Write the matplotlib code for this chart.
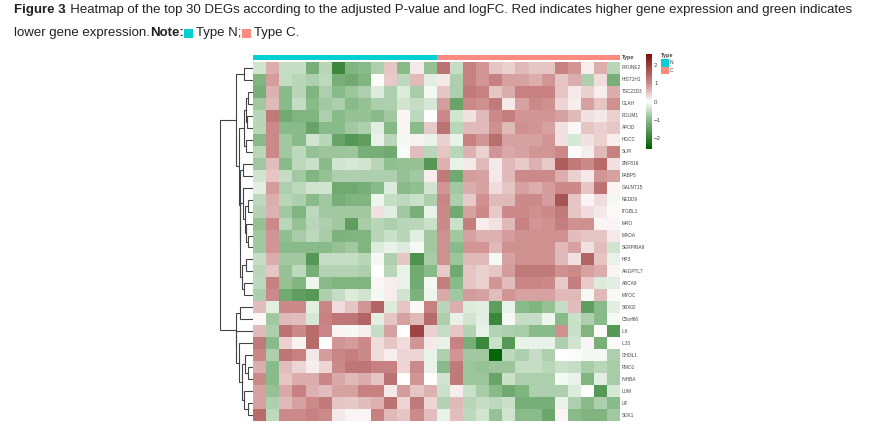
import numpy as np
import matplotlib
matplotlib.use('Agg')
import matplotlib.pyplot as plt
from matplotlib.colors import LinearSegmentedColormap, ListedColormap
from matplotlib.patches import Rectangle

genes = ['PRUNE2', 'HIST1H1', 'TSC22D3', 'GLAH', 'PDLIM1', 'APOD', 'HGCC', 'SLPI', 'ZNF816', 'FABP5',
         'GALNT15', 'NEDD9', 'ITGBL1', 'MRO', 'MAOA', 'SERPINA9', 'HP3', 'ANGPTL7', 'ABCA8', 'MYOC',
         'SBX02', 'C5orf66', 'IL6', 'IL33', 'CHI3L1', 'FMO1', 'INHBA', 'LUM', 'LIF', 'SDK1']

# 14 N samples, then 14 C samples
expr = [
    [-.4, .7, -.5, -.5, -1.2, -.6, -1.9, -1.1, -1, -.7, .5, -1, .2, -.9, 1.3, -.5, 1.1, .9, .5, .4, .6, .5, .5, 1.1, .9, .15, .7, -.6],
    [-1.1, .85, -.5, -.6, -.7, -.55, -1.2, -1.3, -1.1, -.05, .45, -.55, .6, -.25, .2, -.7, 1.1, .9, 1.1, .8, .8, .7, .9, .5, .7, -.7, .3, -1.2],
    [-1.2, .65, -1, -.6, -1.1, -.7, -1, -.85, -.7, -.3, -.7, -.3, -.75, -.1, .5, -.7, 1.2, 1.1, .5, .7, 1.1, 1.1, 1.1, .5, .2, .4, .15, .7],
    [-.8, .6, -1, -.5, -1, -.8, -.7, -1, -.9, -.7, -.7, -.4, -.5, -.35, .85, -1.4, 1, .95, 1.2, .2, .8, 1, .95, .35, .15, .8, .5, .95],
    [-.6, 1.2, -1.3, -1.1, -1.1, -.7, -1, -.9, -.9, -1, -.8, .1, -.55, 0, 1, -.4, .25, .6, 1, 1.15, .9, .9, .9, .8, .6, .25, .2, .4],
    [-.6, 1, -1, -1, -1.4, -1, -1, -.8, -.7, -.25, -1.05, .1, -1, .45, 1.3, -.6, .6, .6, .95, .6, .95, .9, .8, .25, .08, .5, .4, .5],
    [-1, 1, -.8, -1, -.4, -.6, -1.4, -1.6, -1.5, -.2, -.6, -.1, .12, -.2, .4, -.2, 1.1, .9, 1.35, .8, .8, .8, .9, .25, -.35, .25, .4, .15],
    [-.6, 1, -.8, -.55, -.9, -.85, -.85, -.85, -1.2, -1.2, -1.3, -.05, .55, -.6, .5, -.6, .65, .4, .9, .75, .8, .9, .9, 1, .03, .15, .6, 1.1],
    [-.8, .55, -1, -.55, -.45, -1, -.4, -.35, -.4, -.6, -.95, -.9, -.9, -1.6, .65, -.2, .2, .6, .2, .6, .45, .65, .45, 1.6, 1.2, 1, 1.4, .25],
    [-.4, .5, -.5, -.8, -1.1, -.9, -.7, -.7, -.7, -.7, -.7, -.9, -.8, .15, 1.2, -1.3, .85, .8, .2, .6, 1, 1, 1, .7, .4, .2, .9, .8],
    [-.25, .85, -.7, -.55, -.4, -.4, -1.3, -1.3, -1.2, -1, -.3, -1, -.95, -.4, .9, -.8, .7, .8, .3, .5, .8, .7, .85, 1, 1, .5, 1.3, .1],
    [-.55, .7, -.6, -.7, -1, -.8, -1.2, -1.1, -1.1, -.15, -.5, -.55, -.45, -.7, 1.05, -.7, .45, .95, .6, .6, 1, 1, .85, 1.7, .5, .1, .3, -.1],
    [-.65, .65, -.8, -1.1, -.55, -.8, -.8, -.8, -.8, .25, -.25, -.8, -1.2, -.2, 1, -1.3, .8, 1, .45, 1, 1, .95, 1, 1.2, .5, .3, .2, .05],
    [-.9, 1, -.6, -.9, -.6, -.7, -.8, -1.5, -.75, -.6, -.7, -.6, -.6, -.45, 1, -.45, 1.15, .15, .25, .6, 1.1, .9, .95, 1.15, .95, .95, .1, .1],
    [-.8, .9, -.95, -.75, -.55, -.75, -1.15, -1.1, -1.1, -.6, -.45, -.6, -.25, -.8, .95, -.8, .8, .65, .65, .85, .95, .95, .95, .95, .55, .5, .5, .2],
    [-.8, .9, -1, -1, -1, -1, -.9, -.8, -1.1, -.3, -.2, -.3, -.1, -.8, .95, -1, .9, .9, .6, .95, .95, .95, .95, .6, .8, .25, .55, -.4],
    [-.5, .7, -.8, -.8, -1.6, -.5, -.5, -.5, -.6, -.1, -.7, .5, -1.7, -.75, .95, -.85, .6, .6, -.1, .8, .95, .95, .95, .6, .25, 1.5, .5, -.2],
    [-.6, .5, -.9, -.55, -1.2, -.65, -.65, -.65, -.7, .02, -.6, -.2, -1.3, -1, .45, -1.3, .5, .4, .5, .85, 1.2, 1.2, 1.2, .95, 1, .8, .7, .1],
    [-.55, 1.1, -.9, -1.1, -.15, -1, -1.1, -1.1, -1.1, .08, .15, -.2, -1.3, -.1, 1.15, -1, .5, .4, .9, .55, 1.05, 1.05, 1, .45, 1.15, .45, -.3, -.25],
    [-.7, 1, -1.3, -1.5, -1.6, -.7, -.5, -.3, -.4, -.1, .15, -.4, -1.15, -.15, .75, -.8, .85, .8, .55, .9, .8, .8, .8, .6, .6, -.1, .6, -.08],
    [.55, -.25, 1, 1, -.25, 1.05, .3, .5, .9, 1.5, -.3, .5, .08, 1.1, -.6, .7, -.3, -.25, -1.5, -.2, -1, -1.1, -.9, -.5, .55, -1.5, -1, -.25],
    [.08, -.8, .6, .55, -.35, 1.1, 1.25, 1.25, 1.5, -.25, .5, .8, .6, 1.4, -.7, -.2, -.4, -.25, -1.9, -.1, -.5, -.5, -.15, -1, -.45, -.7, -1, -.1],
    [.6, -.7, 1.3, 1, 1.4, 1.05, .1, -.1, .15, -.5, .8, 0, 1.9, .4, -.5, .5, -.65, -.2, -.65, -.7, -.75, -1, -1, .95, -.45, -1.1, .05, -1.6],
    [1.2, -1, .4, .12, 1.4, 0, .9, .85, 1, .3, .5, .3, .9, .2, -.2, 1.1, -1.2, -1.9, -.45, -1.6, -.2, -.2, -.2, -.7, -.4, .1, -1.2, .05],
    [1.05, -.7, 1.25, 1.1, .2, .85, 1.05, 1.15, 1, .3, .15, .35, .35, -.2, -.7, .9, -.8, -.8, -2.5, -.55, -.7, -.5, -.7, 0, -.05, -.1, -.1, -.7],
    [.7, -1, .55, .35, .15, .35, 1, 1.25, 1.25, 1.1, 1.1, .35, 1, -.2, -1, 1.2, -.85, -.9, -.85, -.85, -.5, -.5, -.6, -.45, -.5, -.75, -.6, -.75],
    [1, -1, .5, .7, .7, 1.05, .75, .6, .7, .5, 1.3, .02, .9, 0, -.4, 1.2, -.85, -.85, -1.4, -.45, -.7, -.7, -.7, -.1, -.2, -1.1, -.25, -.75],
    [.8, -.9, .75, 1.1, .65, .55, .8, .8, 1.1, 1.1, .2, .85, .5, .65, -.45, .15, -.45, -.75, -1, -1.3, -1.1, -.7, -.7, -.7, -.3, 0, -1.6, -.35],
    [.8, -.7, .6, .8, 1, 1.2, .5, .45, .55, .65, 1.3, .35, 1.2, .35, -.65, .6, -.6, -.5, -.55, -.45, -1.2, -1.2, -1.2, -.2, -.7, -1, -.7, -1],
    [1.4, -.55, 1, 1, 1.1, 1, .2, .1, .1, 1.1, .6, .5, 1, .55, -.2, .55, -.55, -.4, -.9, -.4, -1, -1, -1.35, .1, -1, -1.1, -1.1, -.8],
]
sample_type = [0] * 14 + [1] * 14
type_colors = ['#05cfd3', '#fb8b80']
cbar_ticks = [-2, -1, 0, 1, 2]

# row tree: (height, child, child), ints are row numbers
tree = (33.5,
        (17, (9, 0, 1),
         (14, (9.5, (7.5, (5.5, 2, 3), (6, 4, 5)), (7.5, 6, 7)),
          (13.5, (10, 8, 9),
           (13, (10, 10, (8.5, (5.5, 11, 12), (7, 13, (5, 14, 15)))),
            (11, (7, 16, 17), (9, 18, 19)))))),
        (17.5, (12.7, 20, 21),
         (17, 22, (14.5, 23, (11.5, (8, 24, (5.5, 25, 26)), (9.5, 27, (5.5, 28, 29)))))))

W, H = 892, 429
fig = plt.figure(figsize=(W / 100, H / 100), dpi=100)


def px_axes(x0, y0, x1, y1):
    return fig.add_axes([x0 / W, 1 - y1 / H, (x1 - x0) / W, (y1 - y0) / H])


vmax = 2.6
cmap = LinearSegmentedColormap.from_list('gwr', [
    (0.0, '#005f00'),
    ((-1 + vmax) / (2 * vmax), '#8abb8a'),
    (0.5, '#ffffff'),
    ((1 + vmax) / (2 * vmax), '#cc8a8a'),
    (1.0, '#7d0f0f'),
])

# heatmap
ax = px_axes(253, 62, 620.5, 421)
ax.pcolormesh(np.array(expr), cmap=cmap, vmin=-vmax, vmax=vmax)
ax.set_xlim(0, 28)
ax.set_ylim(30, 0)
ax.axis('off')
for i, g in enumerate(genes):
    ax.text(28.08, i + 0.5, g, fontsize=3.4, color='#444444', va='center', ha='left', family='Liberation Sans')

# annotation bar
ax_top = px_axes(253, 54.5, 620.5, 60)
ax_top.pcolormesh(np.array([sample_type]), cmap=ListedColormap(type_colors), vmin=0, vmax=1)
ax_top.axis('off')
ax_top.text(28.08, 0.5, 'Type', fontsize=4, fontweight='bold', color='#444444', va='center', family='Liberation Sans')

# row dendrogram
ax_den = px_axes(216, 62, 253, 421)
ax_den.set_xlim(37, 0)
ax_den.set_ylim(30, 0)
ax_den.axis('off')


def draw(node):
    if isinstance(node, int):
        return node + 0.5, 0
    h, a, b = node
    ya, ha = draw(a)
    yb, hb = draw(b)
    ax_den.plot([ha, h, h, hb], [ya, ya, yb, yb], color='#444444', lw=0.8, solid_joinstyle='miter')
    return (ya + yb) / 2, h


draw(tree)

# colour bar
ax_cb = px_axes(646, 54, 652, 149)
grad = np.linspace(vmax, -vmax, 200).reshape(-1, 1)
ax_cb.imshow(grad, cmap=cmap, vmin=-vmax, vmax=vmax, aspect='auto', extent=[0, 1, -vmax, vmax])
ax_cb.set_xticks([])
ax_cb.yaxis.tick_right()
ax_cb.set_yticks(cbar_ticks)
ax_cb.set_yticklabels(['\u2212' + str(-t) if t < 0 else str(t) for t in cbar_ticks], fontsize=4.4, color='#444444',
                      family='Liberation Sans')
ax_cb.tick_params(length=0, pad=1.5)
for s in ax_cb.spines.values():
    s.set_visible(False)

# legend + caption in figure pixels
ax_all = fig.add_axes([0, 0, 1, 1], zorder=5)
ax_all.set_xlim(0, W)
ax_all.set_ylim(H, 0)
ax_all.axis('off')
ax_all.text(661, 56, 'Type', fontsize=4, fontweight='bold', color='#444444', va='center', family='Liberation Sans')
ax_all.add_patch(Rectangle((661, 59), 7.5, 7.5, color=type_colors[0], lw=0))
ax_all.add_patch(Rectangle((661, 66.5), 7.5, 7.5, color=type_colors[1], lw=0))
ax_all.text(670, 63, 'N', fontsize=3.6, color='#444444', va='center', family='Liberation Sans')
ax_all.text(670, 70.5, 'C', fontsize=3.6, color='#444444', va='center', family='Liberation Sans')

cap = dict(fontsize=9.55, color='#222222', va='center', family='Liberation Sans')
ax_all.text(14, 9.5, 'Figure 3', fontweight='bold', **cap)
ax_all.text(63, 9.5, '. Heatmap of the top 30 DEGs according to the adjusted P-value and logFC. Red indicates '
            'higher gene expression and green indicates', **cap)
ax_all.text(14, 33, 'lower gene expression.', **cap)
ax_all.text(150, 33, 'Note:', fontweight='bold', **cap)
ax_all.add_patch(Rectangle((184, 29), 9, 9, color=type_colors[0], lw=0))
ax_all.text(196, 33, 'Type N;', **cap)
ax_all.add_patch(Rectangle((242, 29), 9, 9, color=type_colors[1], lw=0))
ax_all.text(254, 33, 'Type C.', **cap)

fig.savefig('out.png', dpi=100)
